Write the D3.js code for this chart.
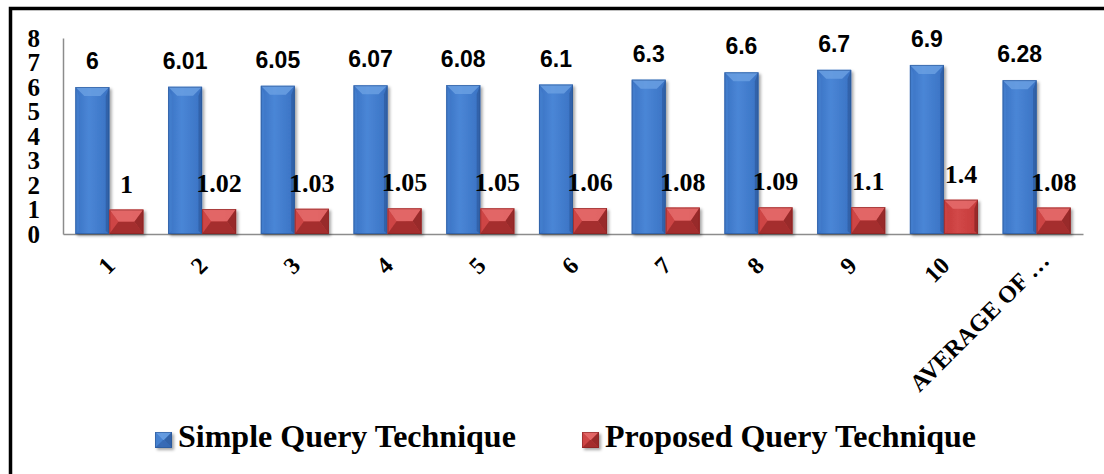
<!DOCTYPE html>
<html>
<head>
<meta charset="utf-8">
<style>
  body { margin: 0; background: #fff; }
  svg { display: block; }
</style>
<script src="https://cdn.jsdelivr.net/npm/d3@7"></script>
</head>
<body>
<div id="chart"></div>
<script>
// chart values
var categories = ["1", "2", "3", "4", "5", "6", "7", "8", "9", "10", "AVERAGE OF \u2026"];
var simpleQuery = [6, 6.01, 6.05, 6.07, 6.08, 6.1, 6.3, 6.6, 6.7, 6.9, 6.28];
var proposedQuery = [1, 1.02, 1.03, 1.05, 1.05, 1.06, 1.08, 1.09, 1.1, 1.4, 1.08];
var yTicks = [0, 1, 2, 3, 4, 5, 6, 7, 8];
var seriesNames = ["Simple Query Technique", "Proposed Query Technique"];

var width = 1104, height = 474;
var plot = {left: 63, right: 1083, top: 38, bottom: 234};

var svg = d3.select("#chart").append("svg")
    .attr("width", width)
    .attr("height", height);

var defs = svg.append("defs");

// colour sets for the bevelled bars
var palette = {
  simple:   {face: "#3a72c3", hi: "#4a86d6", top: "#6a9fe2", left: "#4782d0", right: "#2e5ea2", bottom: "#3567b0", edge: "#2a5594"},
  proposed: {face: "#c43a3a", hi: "#d24848", top: "#e56c6c", left: "#cf4646", right: "#8f2828", bottom: "#9e2c2c", edge: "#862424"}
};

Object.keys(palette).forEach(function(k) {
  var p = palette[k];
  var g = defs.append("linearGradient").attr("id", "face-" + k)
      .attr("x1", "0").attr("x2", "1").attr("y1", "0").attr("y2", "0");
  g.append("stop").attr("offset", "0%").attr("stop-color", p.face);
  g.append("stop").attr("offset", "40%").attr("stop-color", p.hi);
  g.append("stop").attr("offset", "100%").attr("stop-color", p.face);
});

var shadow = defs.append("filter").attr("id", "shadow")
    .attr("x", "-20%").attr("y", "-20%").attr("width", "150%").attr("height", "150%");
shadow.append("feDropShadow").attr("dx", 2).attr("dy", 2).attr("stdDeviation", 1.5)
    .attr("flood-color", "#000").attr("flood-opacity", 0.35);

// scales
var x0 = d3.scaleBand()
    .domain(categories)
    .range([plot.left, plot.right])
    .paddingInner(0.266)
    .paddingOuter(0.133);

var x1 = d3.scaleBand()
    .domain(["simple", "proposed"])
    .range([0, x0.bandwidth()]);

var y = d3.scaleLinear()
    .domain([0, 8])
    .range([plot.bottom, plot.top]);

// outer frame (only top and left edges fall inside the picture)
svg.append("rect")
    .attr("x", 10.5).attr("y", 8.5)
    .attr("width", width + 20).attr("height", height + 20)
    .attr("fill", "none")
    .attr("stroke", "#000")
    .attr("stroke-width", 3.5);

// y axis
var yAxis = svg.append("g")
    .attr("transform", "translate(" + plot.left + ",0)")
    .call(d3.axisLeft(y).tickValues(yTicks).tickSize(0).tickSizeOuter(0).tickPadding(23).tickFormat(d3.format("d")));
yAxis.select(".domain").attr("stroke", "#8c8c8c").attr("stroke-width", 1.5);
yAxis.selectAll("text")
    .attr("font-family", "'Liberation Serif', 'Times New Roman', serif")
    .attr("font-weight", "bold")
    .attr("font-size", 25)
    .attr("fill", "#000")
    .attr("dy", "0.33em");

// x axis
var xAxis = svg.append("g")
    .attr("transform", "translate(0," + plot.bottom + ")")
    .call(d3.axisBottom(x0).tickSize(0).tickSizeOuter(0));
xAxis.select(".domain").attr("stroke", "#8c8c8c").attr("stroke-width", 1.5);
xAxis.selectAll("text")
    .attr("font-family", "'Liberation Serif', 'Times New Roman', serif")
    .attr("font-weight", "bold")
    .attr("font-size", 24)
    .attr("fill", "#000")
    .attr("x", 0).attr("y", 0).attr("dy", 0)
    .attr("text-anchor", "end")
    .attr("transform", function(d, i) {
      return i === categories.length - 1 ? "translate(14,28) rotate(-45)" : "translate(7,33) rotate(-45)";
    });

// bevelled bar drawing
function drawBar(g, x, yTop, w, h, p) {
  var b = Math.min(9, h / 2, w / 2);
  var x2 = x + w, y2 = yTop + h;
  var bar = g.append("g").attr("filter", "url(#shadow)");
  bar.append("rect").attr("x", x).attr("y", yTop).attr("width", w).attr("height", h)
      .attr("fill", "url(#face-" + p + ")");
  var c = palette[p];
  var polys = [
    {pts: [[x, yTop], [x2, yTop], [x2 - b, yTop + b], [x + b, yTop + b]], fill: c.top, op: 0.85},
    {pts: [[x, yTop], [x + b * 0.4, yTop + b], [x + b * 0.4, y2 - 3], [x, y2]], fill: c.left, op: 0.6},
    {pts: [[x2, yTop], [x2 - b * 0.4, yTop + b], [x2 - b * 0.4, y2 - 3], [x2, y2]], fill: c.right, op: 0.8}
  ];
  if (h < 2 * 9 + 10) {
    // short bars: pyramid bevel
    var cy = yTop + h / 2;
    polys = [
      {pts: [[x, yTop], [x2, yTop], [x2 - b, cy], [x + b, cy]], fill: c.top, op: 0.85},
      {pts: [[x, yTop], [x + b, cy], [x, y2]], fill: c.left, op: 0.85},
      {pts: [[x2, yTop], [x2 - b, cy], [x2, y2]], fill: c.right, op: 0.85},
      {pts: [[x, y2], [x + b, cy], [x2 - b, cy], [x2, y2]], fill: c.bottom, op: 0.85}
    ];
  }
  polys.forEach(function(q) {
    bar.append("polygon")
        .attr("points", q.pts.map(function(pt) { return pt.join(","); }).join(" "))
        .attr("fill", q.fill)
        .attr("opacity", q.op);
  });
  bar.append("rect").attr("x", x + 0.5).attr("y", yTop + 0.5).attr("width", w - 1).attr("height", h - 1)
      .attr("fill", "none").attr("stroke", c.edge).attr("stroke-width", 1).attr("opacity", 0.6);
}

var bars = svg.append("g");
categories.forEach(function(cat, i) {
  var gx = x0(cat);
  drawBar(bars, gx + x1("simple"), y(simpleQuery[i]), x1.bandwidth(), plot.bottom - y(simpleQuery[i]), "simple");
  drawBar(bars, gx + x1("proposed"), y(proposedQuery[i]), x1.bandwidth(), plot.bottom - y(proposedQuery[i]), "proposed");
});

// value labels
svg.append("g").selectAll("text")
    .data(simpleQuery)
    .join("text")
    .attr("x", function(d, i) { return x0(categories[i]) + x1("simple") + x1.bandwidth() / 2; })
    .attr("y", function(d) { return y(d) - 18; })
    .attr("text-anchor", "middle")
    .attr("font-family", "'Liberation Sans', Arial, sans-serif")
    .attr("font-weight", "bold")
    .attr("font-size", 23)
    .attr("fill", "#000")
    .text(function(d) { return d; });

svg.append("g").selectAll("text")
    .data(proposedQuery)
    .join("text")
    .attr("x", function(d, i) { return x0(categories[i]) + x1("proposed") + x1.bandwidth() / 2; })
    .attr("y", function(d) { return y(d) - 17; })
    .attr("text-anchor", "middle")
    .attr("font-family", "'Liberation Serif', 'Times New Roman', serif")
    .attr("font-weight", "bold")
    .attr("font-size", 26)
    .attr("fill", "#000")
    .text(function(d) { return d; });

// legend
var legendX = [155, 582];
var keys = ["simple", "proposed"];
var legend = svg.append("g");
keys.forEach(function(k, i) {
  var lg = legend.append("g");
  drawBar(lg, legendX[i], 432, 17, 16, k);
  lg.append("text")
      .attr("x", legendX[i] + 23)
      .attr("y", 447)
      .attr("font-family", "'Liberation Serif', 'Times New Roman', serif")
      .attr("font-weight", "bold")
      .attr("font-size", 32)
      .attr("fill", "#000")
      .text(seriesNames[i]);
});
</script>
</body>
</html>
